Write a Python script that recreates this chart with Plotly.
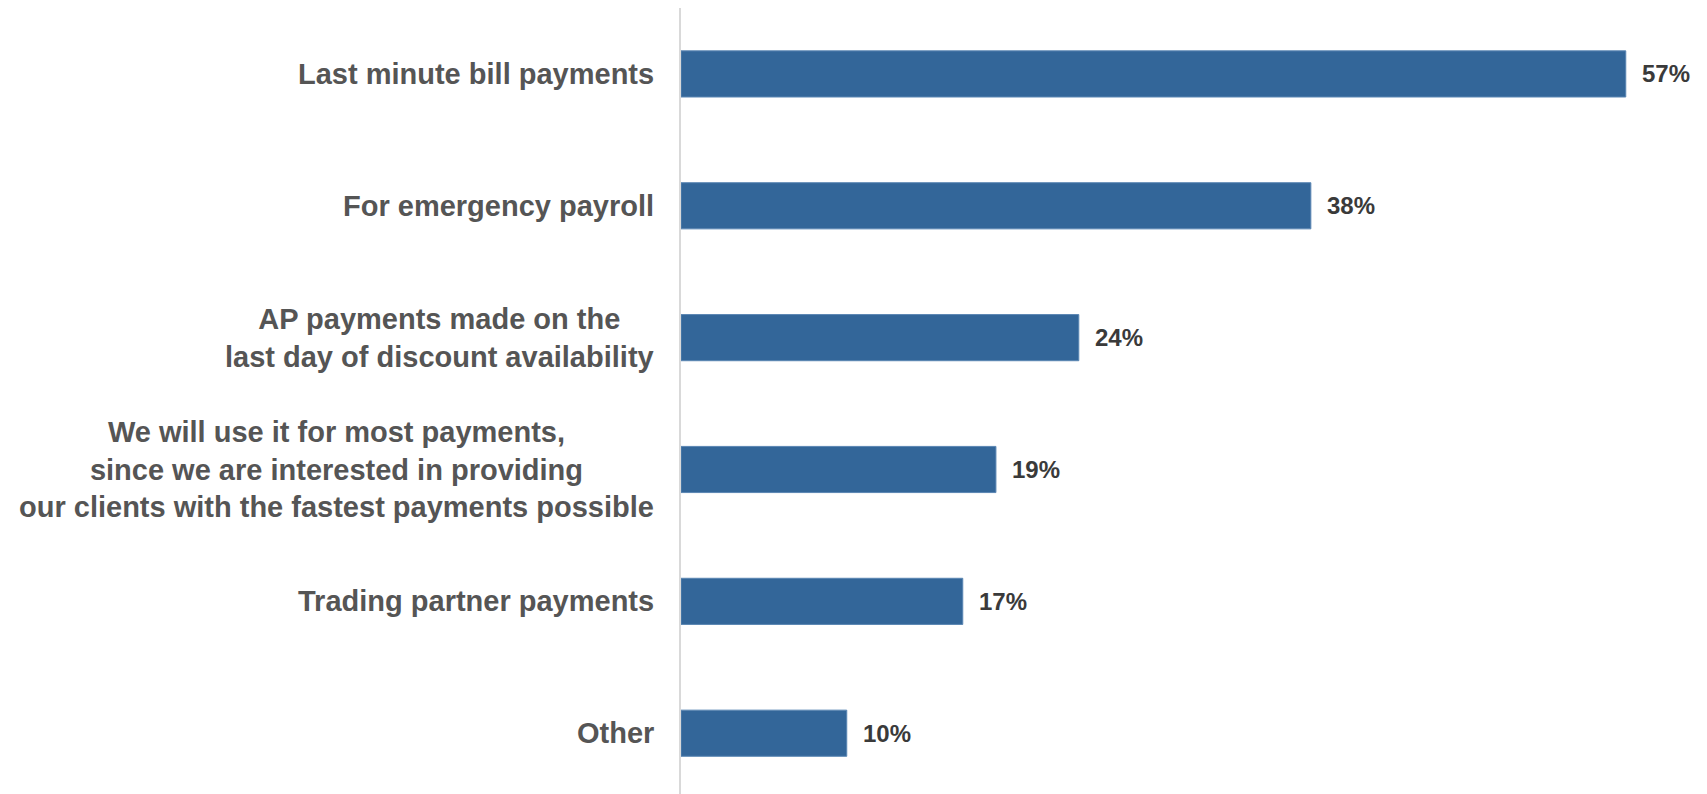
import plotly.graph_objects as go

# Survey responses: intended uses of faster payments
categories = [
    "Last minute bill payments",
    "For emergency payroll",
    "AP payments made on the<br>last day of discount availability",
    "We will use it for most payments,<br>since we are interested in providing<br>our clients with the fastest payments possible",
    "Trading partner payments",
    "Other",
]
values = [57, 38, 24, 19, 17, 10]
value_labels = [f"{v}%" for v in values]

BAR_COLOR = "#336699"
LABEL_COLOR = "#555555"
VALUE_COLOR = "#3a3a3a"
FONT = "Liberation Sans, Arial, sans-serif"

fig = go.Figure(
    go.Bar(
        x=values,
        y=categories,
        orientation="h",
        width=0.35,
        marker=dict(color=BAR_COLOR, line=dict(color="#5a86b3", width=1)),
        hoverinfo="skip",
    )
)

annotations = []
# Category labels, centred line by line, to the left of the axis
for cat in categories:
    annotations.append(dict(
        xref="paper", x=0, yref="y", y=cat,
        text=cat, showarrow=False,
        xanchor="right", yanchor="middle", align="center",
        xshift=-25,
        font=dict(family=FONT, size=29, color=LABEL_COLOR, weight="bold"),
    ))
# Value labels at the end of each bar
for cat, v, lab in zip(categories, values, value_labels):
    annotations.append(dict(
        xref="x", x=v, yref="y", y=cat,
        text=lab, showarrow=False,
        xanchor="left", yanchor="middle",
        xshift=14,
        font=dict(family=FONT, size=24, color=VALUE_COLOR, weight="bold"),
    ))

fig.update_layout(
    width=1707, height=794,
    margin=dict(l=681, r=0, t=8, b=0),
    paper_bgcolor="white", plot_bgcolor="white",
    showlegend=False,
    annotations=annotations,
    xaxis=dict(range=[0, 61.9], visible=False, fixedrange=True),
    yaxis=dict(
        type="category",
        range=[5.461, -0.5],
        showticklabels=False,
        ticks="",
        showgrid=False,
        zeroline=False,
        showline=True,
        linecolor="#d9d9d9",
        linewidth=2,
        fixedrange=True,
    ),
)

fig.write_html("out.html", config={"displayModeBar": False})
